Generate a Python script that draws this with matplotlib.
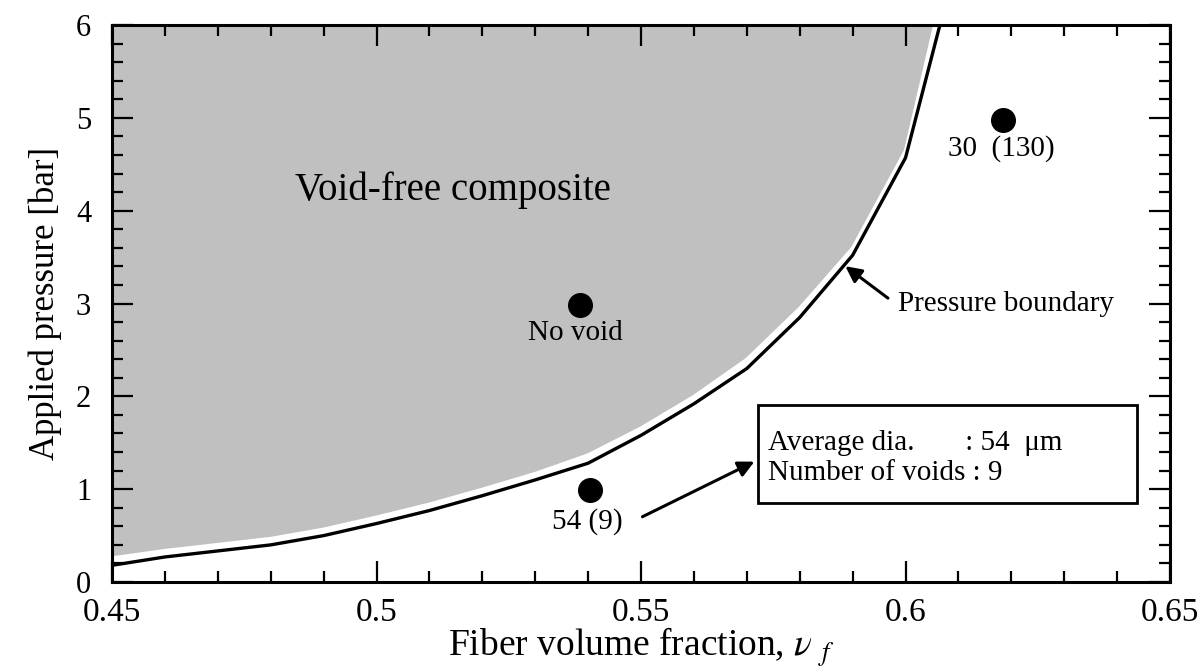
import numpy as np
import matplotlib.pyplot as plt
from matplotlib.patches import Rectangle
from matplotlib.ticker import MultipleLocator, FormatStrFormatter

plt.rcParams['font.family'] = ['Liberation Serif', 'DejaVu Serif']
plt.rcParams['mathtext.fontset'] = 'stix'

# pressure boundary (black line)
vf_line = [0.45, 0.46, 0.48, 0.49, 0.50, 0.51, 0.52, 0.53, 0.54, 0.55, 0.56, 0.57, 0.58, 0.59, 0.60, 0.6065]
p_line = [0.18, 0.27, 0.40, 0.50, 0.63, 0.77, 0.93, 1.10, 1.28, 1.58, 1.92, 2.30, 2.85, 3.52, 4.57, 6.0]

# edge of the grey void-free region
vf_fill = [0.45, 0.46, 0.48, 0.49, 0.50, 0.51, 0.52, 0.53, 0.54, 0.55, 0.56, 0.57, 0.58, 0.59, 0.60, 0.6055]
p_fill = [0.26, 0.34, 0.47, 0.57, 0.70, 0.84, 1.00, 1.17, 1.37, 1.66, 2.00, 2.40, 2.95, 3.60, 4.65, 6.0]

# experiments
vf_exp = [0.5385, 0.5404, 0.6184]
p_exp = [2.985, 0.99, 4.98]
exp_labels = ['No void', '54 (9)', '30  (130)']

fig = plt.figure(figsize=(12.03, 6.71), dpi=100)
ax = fig.add_axes([0.0931, 0.1326, 0.8795, 0.8301])

xs = [0.45] + vf_fill + [0.45]
ys = [6.0] + p_fill + [6.0]
ax.fill(xs, ys, facecolor='#c0c0c0', edgecolor='white', linewidth=2.2, zorder=1)
ax.plot(vf_line, p_line, color='black', linewidth=2.4, zorder=2)
ax.plot(vf_exp, p_exp, 'o', color='black', markersize=17, zorder=3)

ax.text(0.5375, 2.68, exp_labels[0], fontsize=21, ha='center', va='center')
ax.text(0.5398, 0.65, exp_labels[1], fontsize=21, ha='center', va='center')
ax.text(0.6182, 4.67, exp_labels[2], fontsize=21, ha='center', va='center')

ax.text(0.5145, 4.22, 'Void-free composite', fontsize=28, ha='center', va='center')

ax.text(0.5986, 3.0, 'Pressure boundary', fontsize=21, ha='left', va='center')
ax.annotate('', xy=(0.5882, 3.42), xytext=(0.5971, 3.04),
            arrowprops=dict(arrowstyle='-|>', color='black', lw=2.2, mutation_scale=24))
ax.annotate('', xy=(0.5719, 1.31), xytext=(0.5498, 0.69),
            arrowprops=dict(arrowstyle='-|>', color='black', lw=2.2, mutation_scale=24))

ax.add_patch(Rectangle((0.5721, 0.85), 0.0717, 1.06, facecolor='white',
                       edgecolor='black', linewidth=2, zorder=4))
ax.text(0.5740, 1.50, 'Average dia.       : 54  \u03bcm', fontsize=21, ha='left', va='center', zorder=5)
ax.text(0.5740, 1.17, 'Number of voids : 9', fontsize=21, ha='left', va='center', zorder=5)

ax.set_xlim(0.45, 0.65)
ax.set_ylim(0, 6)
ax.xaxis.set_major_locator(MultipleLocator(0.05))
ax.xaxis.set_minor_locator(MultipleLocator(0.01))
ax.yaxis.set_major_locator(MultipleLocator(1))
ax.yaxis.set_minor_locator(MultipleLocator(0.2))
ax.xaxis.set_major_formatter(FormatStrFormatter('%g'))
ax.yaxis.set_major_formatter(FormatStrFormatter('%g'))

ax.tick_params(which='both', direction='in', top=True, right=True, width=1.6)
ax.tick_params(which='major', length=15)
ax.tick_params(which='minor', length=8)
ax.tick_params(axis='x', labelsize=24, pad=11)
ax.tick_params(axis='y', labelsize=22, pad=15)
for s in ax.spines.values():
    s.set_linewidth(2.2)

ax.set_xlabel(r'Fiber volume fraction, $\nu$ $_{f}$', fontsize=27, labelpad=-2)
ax.set_ylabel('Applied pressure [bar]', fontsize=25, labelpad=10)

fig.savefig('out.png', dpi=100)
